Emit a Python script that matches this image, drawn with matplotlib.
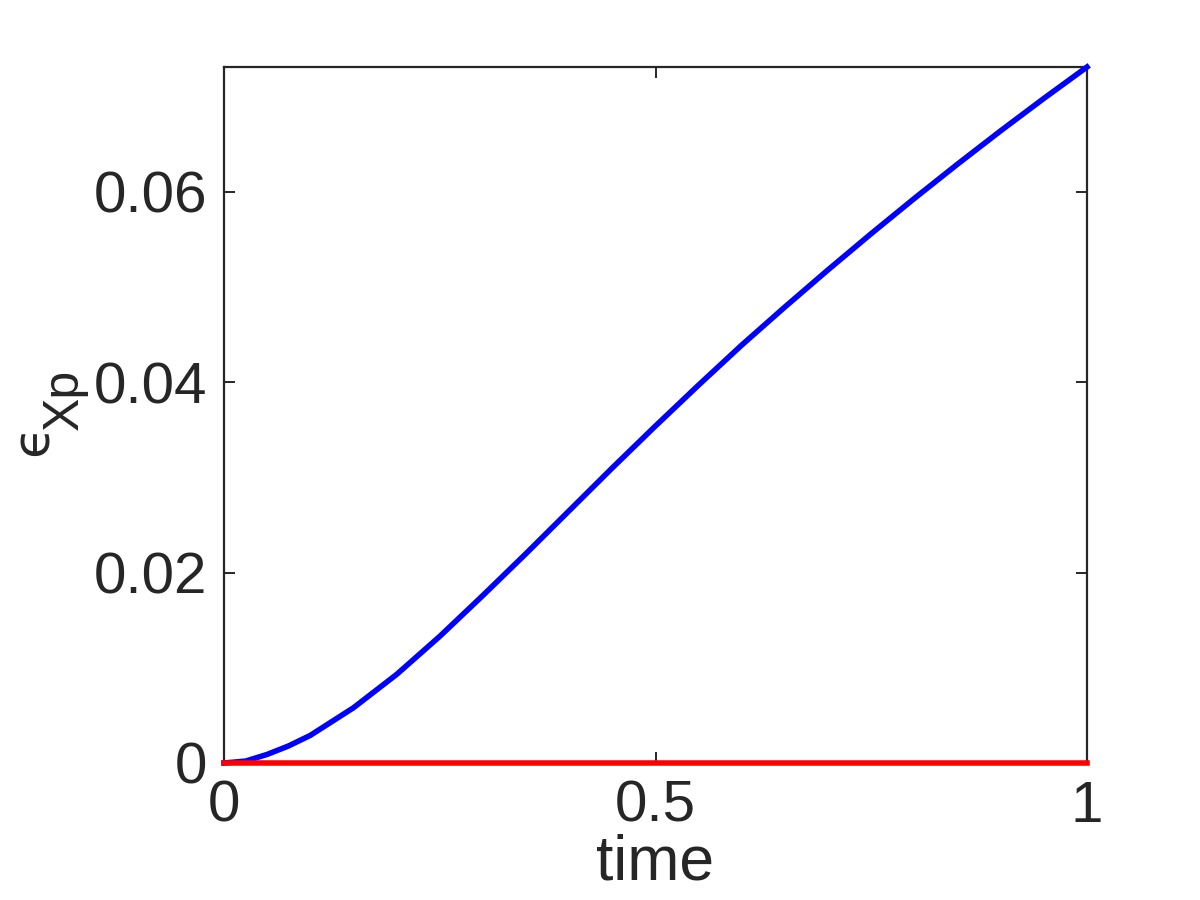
import matplotlib
matplotlib.use('Agg')
import matplotlib.pyplot as plt

# datos
tiempo = [0.0, 0.025, 0.05, 0.075, 0.1, 0.15, 0.2, 0.25, 0.3, 0.35, 0.4, 0.45, 0.5,
          0.55, 0.6, 0.65, 0.7, 0.75, 0.8, 0.85, 0.9, 0.95, 1.0]
error_azul = [0.0, 0.0002, 0.0009, 0.0018, 0.0029, 0.0058, 0.0093, 0.0133, 0.0176,
              0.0220, 0.0265, 0.0310, 0.0354, 0.0397, 0.0439, 0.0479, 0.0518,
              0.0556, 0.0593, 0.0629, 0.0664, 0.0698, 0.0731]
error_rojo = [0.0] * len(tiempo)

xticks = [0, 0.5, 1]
xtick_labels = ['0', '0.5', '1']
yticks = [0, 0.02, 0.04, 0.06]
ytick_labels = ['0', '0.02', '0.04', '0.06']

GRIS = '#262626'
plt.rcParams['font.family'] = ['Liberation Sans', 'DejaVu Sans']

fig = plt.figure(figsize=(12, 9), dpi=100)
ax = fig.add_axes([224 / 1200, 1 - 763 / 900, 863 / 1200, 696 / 900])

ax.plot(tiempo, error_azul, color='#0000ff', linewidth=4, clip_on=False, zorder=3)
ax.plot(tiempo, error_rojo, color='#ff0000', linewidth=4, clip_on=False, zorder=4)

ax.set_xlim(0, 1)
ax.set_ylim(0, 0.0731)
ax.set_xticks(xticks)
ax.set_xticklabels(xtick_labels)
ax.set_yticks(yticks)
ax.set_yticklabels(ytick_labels)

for lado in ax.spines.values():
    lado.set_color(GRIS)
    lado.set_linewidth(1.6)

ax.tick_params(direction='in', length=8, width=1.4, color=GRIS,
               labelsize=42, labelcolor=GRIS, top=True, right=True)
ax.tick_params(axis='y', pad=12)
ax.tick_params(axis='x', pad=12)

ax.set_xlabel('time', fontsize=45, color=GRIS, labelpad=0)

# etiqueta y: epsilon con subindice Xp
fig.text(48 / 1200, 1 - 456 / 900, '\u03f5', rotation=90, rotation_mode='anchor',
         ha='left', va='baseline', fontsize=37, color=GRIS, family=['DejaVu Sans'])
fig.text(78 / 1200, 1 - 430 / 900, 'Xp', rotation=90, rotation_mode='anchor',
         ha='left', va='baseline', fontsize=36, color=GRIS)

plt.savefig('out.png', dpi=100)
plt.close()
